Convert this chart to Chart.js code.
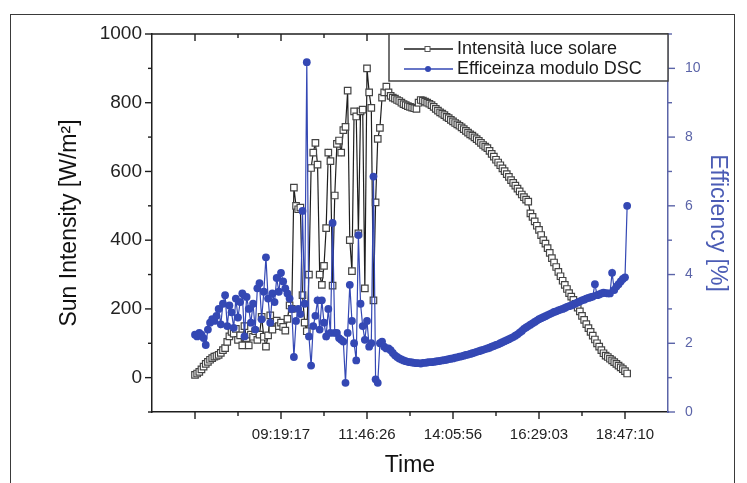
<!DOCTYPE html>
<html>
<head>
<meta charset="utf-8">
<script src="https://cdn.jsdelivr.net/npm/chart.js@4.4.0/dist/chart.umd.min.js"></script>
<style>
  body { margin: 0; background: #fff; }
  #wrap { position: relative; width: 747px; height: 483px; overflow: hidden; }
  #frame { position: absolute; left: 10px; top: 14px; width: 723px; height: 480px; border: 1.5px solid #3a3a3a; }
  canvas { position: absolute; left: 0; top: 0; }
</style>
</head>
<body>
<div id="wrap"><div id="frame"></div><canvas id="grafico" width="747" height="483"></canvas></div>
<script>
// nomes das series
const seriesNames = ['Intensità luce solare', 'Efficeinza modulo DSC'];

// posicoes (indice da amostra) dos ticks do eixo x e os horarios escritos
const xTickValues = [0, 20, 40, 60, 80, 100, 120, 140, 160, 180, 200];
const timeTickPos = [40, 80, 120, 160, 200];
const timeTickLabels = ['09:19:17', '11:46:26', '14:05:56', '16:29:03', '18:47:10'];

// intensidade solar [W/m2], uma por amostra
const sunIntensity = [
  8, 12, 17, 24, 32, 40, 46, 52, 57, 61, 63, 66, 72, 80, 86, 104, 120, 133, 128, 142,
  110, 123, 94, 150, 115, 94, 125, 119, 135, 110, 125, 177, 119, 90, 123, 181, 140, 162, 166, 150,
  160, 148, 137, 171, 210, 200,
  553, 500, 490, 495, 240, 160, 135, 300, 610, 655, 683, 620, 300, 270, 325, 435, 655, 630, 268, 530,
  680, 690, 655, 720, 730, 835, 400, 310, 775, 760, 420, 775, 780, 260, 900, 830, 785, 225, 510, 695,
  727, 815, 830, 847,
  830, 820, 815, 812, 808, 805, 800, 796, 793, 790,
  788, 786, 784, 782, 800, 808, 806, 803, 800, 797,
  793, 788, 782, 777, 772, 768, 764, 759, 755, 750,
  746, 741, 737, 733, 728, 723, 718, 713, 708, 704,
  699, 694, 689, 683, 677, 672, 668, 660, 651, 643,
  634, 626, 618, 609, 601, 592, 584, 575, 567, 559,
  550, 542, 533, 525, 518, 512, 478, 468, 455, 442,
  430, 415, 400, 390, 377, 363, 348, 335, 322, 308,
  295, 282, 270, 258, 246, 236, 226, 215, 204, 193,
  180, 168, 156, 144, 133, 122, 111, 100, 90, 80,
  71, 64, 60, 55, 50, 45, 40, 35, 30, 25,
  19, 12
];

// eficiencia do modulo DSC [%], uma por amostra
const efficiency = [
  2.25, 2.2, 2.3, 2.25, 2.15, 1.95, 2.4, 2.6, 2.7, 2.65, 2.8, 3.0, 2.55, 3.15, 3.4, 2.5, 3.1, 2.9, 2.45, 3.3,
  2.75, 3.2, 3.45, 2.2, 3.35, 3.0, 2.6, 3.15, 2.4, 3.6, 3.75, 2.7, 3.5, 4.5, 3.3, 2.6, 3.45, 3.2, 3.9, 3.5,
  4.05, 3.8, 3.6, 3.45, 3.3, 3.0,
  1.6, 2.65, 3.0, 2.85, 5.85, 3.15, 10.18, 2.2, 1.35, 2.5, 2.8, 3.25, 2.4, 3.25, 2.6, 2.2, 3.0, 2.3, 5.5, 2.3,
  2.3, 2.15, 2.1, 2.05, 0.85, 2.3, 3.7, 2.65, 2.0, 1.5, 5.15, 3.15, 2.5, 2.1, 2.65, 1.9, 2.0, 6.85, 0.95, 0.85,
  2.0, 2.05, 1.9, 1.85,
  1.85, 1.8, 1.72, 1.65, 1.6, 1.56, 1.53, 1.5, 1.48, 1.46,
  1.45, 1.44, 1.43, 1.42, 1.42, 1.41, 1.43, 1.43, 1.44, 1.45,
  1.45, 1.46, 1.47, 1.48, 1.49, 1.5, 1.51, 1.52, 1.54, 1.55,
  1.56, 1.58, 1.59, 1.61, 1.62, 1.64, 1.66, 1.67, 1.69, 1.71,
  1.73, 1.75, 1.77, 1.79, 1.81, 1.83, 1.85, 1.87, 1.9, 1.92,
  1.95, 1.97, 2.0, 2.03, 2.06, 2.09, 2.12, 2.15, 2.18, 2.22,
  2.26, 2.31, 2.36, 2.42, 2.46, 2.5, 2.54, 2.58, 2.62, 2.66,
  2.7, 2.73, 2.76, 2.79, 2.82, 2.85, 2.88, 2.91, 2.93, 2.96,
  2.98, 3.0, 3.03, 3.06, 3.08, 3.1, 3.13, 3.16, 3.19, 3.22,
  3.25, 3.27, 3.3, 3.32, 3.34, 3.36, 3.72, 3.4, 3.42, 3.45,
  3.47, 3.46, 3.45, 3.45, 4.05, 3.55, 3.65, 3.72, 3.8, 3.87,
  3.92, 6.0
];

const FONT = "'Liberation Sans', Arial, sans-serif";
const BLACK = '#1e1e1e';
const BLUE = '#3448b4';
const BLUE_AXIS = '#5b64a8';

// marcas dos eixos (maiores e menores) e a linha de cima da moldura
const marcasEixos = {
  id: 'marcasEixos',
  afterDraw(chart) {
    const {ctx, chartArea: a, scales} = chart;
    const seg = (x1, y1, x2, y2) => { ctx.beginPath(); ctx.moveTo(x1, y1); ctx.lineTo(x2, y2); ctx.stroke(); };
    ctx.save();
    ctx.lineWidth = 1.4;
    ctx.strokeStyle = BLACK;
    seg(a.left, a.top, a.right, a.top);
    scales.x.ticks.forEach(t => {
      const px = scales.x.getPixelForValue(t.value);
      const len = t.value % 40 === 0 ? 7 : 4;
      seg(px, a.bottom, px, a.bottom + len);
      seg(px, a.top, px, a.top + len);
    });
    scales.y.ticks.forEach(t => {
      const py = scales.y.getPixelForValue(t.value);
      const len = t.value % 200 === 0 ? 7 : 4;
      seg(a.left - len, py, a.left, py);
    });
    ctx.strokeStyle = BLUE_AXIS;
    scales.y1.ticks.forEach(t => {
      const py = scales.y1.getPixelForValue(t.value);
      const len = t.value % 2 === 0 ? 7 : 4;
      seg(a.right, py, a.right + len, py);
    });
    ctx.restore();
  }
};

// legenda dentro do grafico, com caixa
const legendaCaixa = {
  id: 'legendaCaixa',
  afterDraw(chart) {
    const {ctx, chartArea: a} = chart;
    const x0 = a.right - 279, y0 = a.top, w = 279, h = 47;
    ctx.save();
    ctx.fillStyle = '#fff';
    ctx.fillRect(x0, y0, w, h);
    ctx.lineWidth = 1.5;
    ctx.strokeStyle = '#444';
    ctx.strokeRect(x0, y0, w, h);
    ctx.font = '18px ' + FONT;
    ctx.textBaseline = 'middle';
    chart.data.datasets.forEach((ds, i) => {
      const yy = y0 + 15 + i * 20;
      ctx.strokeStyle = ds.borderColor;
      ctx.lineWidth = 1.3;
      ctx.beginPath(); ctx.moveTo(x0 + 15, yy); ctx.lineTo(x0 + 64, yy); ctx.stroke();
      if (ds.pointStyle === 'rect') {
        ctx.fillStyle = '#fff';
        ctx.fillRect(x0 + 36, yy - 2.5, 5, 5);
        ctx.lineWidth = 1;
        ctx.strokeStyle = '#555';
        ctx.strokeRect(x0 + 36, yy - 2.5, 5, 5);
      } else {
        ctx.fillStyle = ds.pointBackgroundColor;
        ctx.beginPath(); ctx.arc(x0 + 39, yy, 3, 0, Math.PI * 2); ctx.fill();
      }
      ctx.fillStyle = '#1a1a1a';
      ctx.fillText(ds.label, x0 + 68, yy);
    });
    ctx.restore();
  }
};

let grafico = new Chart(document.getElementById('grafico'), {
  type: 'line',
  data: {
    datasets: [
      {
        label: seriesNames[0],
        data: sunIntensity.map((v, i) => ({x: i, y: v})),
        yAxisID: 'y',
        borderColor: BLACK,
        borderWidth: 1.2,
        pointStyle: 'rect',
        pointRadius: 4.6,
        pointBorderWidth: 1.2,
        pointBackgroundColor: '#fff',
        pointBorderColor: '#444',
        order: 1
      },
      {
        label: seriesNames[1],
        data: efficiency.map((v, i) => ({x: i, y: v})),
        yAxisID: 'y1',
        borderColor: BLUE,
        borderWidth: 1.2,
        pointStyle: 'circle',
        pointRadius: 3.9,
        pointBorderWidth: 0,
        pointBackgroundColor: BLUE,
        order: 0
      }
    ]
  },
  options: {
    responsive: false,
    animation: false,
    layout: { padding: { left: 52, right: 12, top: 34, bottom: 0 } },
    plugins: { legend: { display: false }, tooltip: { enabled: false } },
    scales: {
      x: {
        type: 'linear',
        min: -20,
        max: 220,
        afterBuildTicks: s => { s.ticks = xTickValues.map(v => ({value: v})); },
        afterFit: s => { s.height = 71; },
        ticks: {
          autoSkip: false,
          maxRotation: 0,
          padding: 14,
          color: '#222',
          font: { family: FONT, size: 15 },
          callback: v => {
            const k = timeTickPos.indexOf(v);
            return k >= 0 ? timeTickLabels[k] : '';
          }
        },
        grid: { drawOnChartArea: false, drawTicks: false },
        border: { color: BLACK, width: 1.5 },
        title: { display: true, text: 'Time', color: '#111', font: { family: FONT, size: 23 }, padding: { top: 4, bottom: 4 } }
      },
      y: {
        position: 'left',
        min: -100,
        max: 1000,
        afterFit: s => { s.width = 100; },
        ticks: {
          stepSize: 100,
          padding: 10,
          color: '#222',
          font: { family: FONT, size: 19 },
          callback: v => (v >= 0 && v % 200 === 0) ? v : ''
        },
        grid: { drawOnChartArea: false, drawTicks: false },
        border: { color: BLACK, width: 1.5 },
        title: { display: true, text: 'Sun Intensity [W/m²]', color: '#111', font: { family: FONT, size: 23 }, padding: { top: 4, bottom: 4 } }
      },
      y1: {
        position: 'right',
        min: 0,
        max: 11,
        afterFit: s => { s.width = 67; },
        ticks: {
          stepSize: 1,
          padding: 17,
          color: BLUE_AXIS,
          font: { family: FONT, size: 14 },
          callback: v => v % 2 === 0 ? v : ''
        },
        grid: { drawOnChartArea: false, drawTicks: false },
        border: { color: BLUE_AXIS, width: 1.5 },
        title: { display: true, text: 'Efficiency [%]', color: '#4b5cb5', font: { family: FONT, size: 23 }, padding: { top: 4, bottom: 4 } }
      }
    }
  },
  plugins: [marcasEixos, legendaCaixa]
});
</script>
</body>
</html>
